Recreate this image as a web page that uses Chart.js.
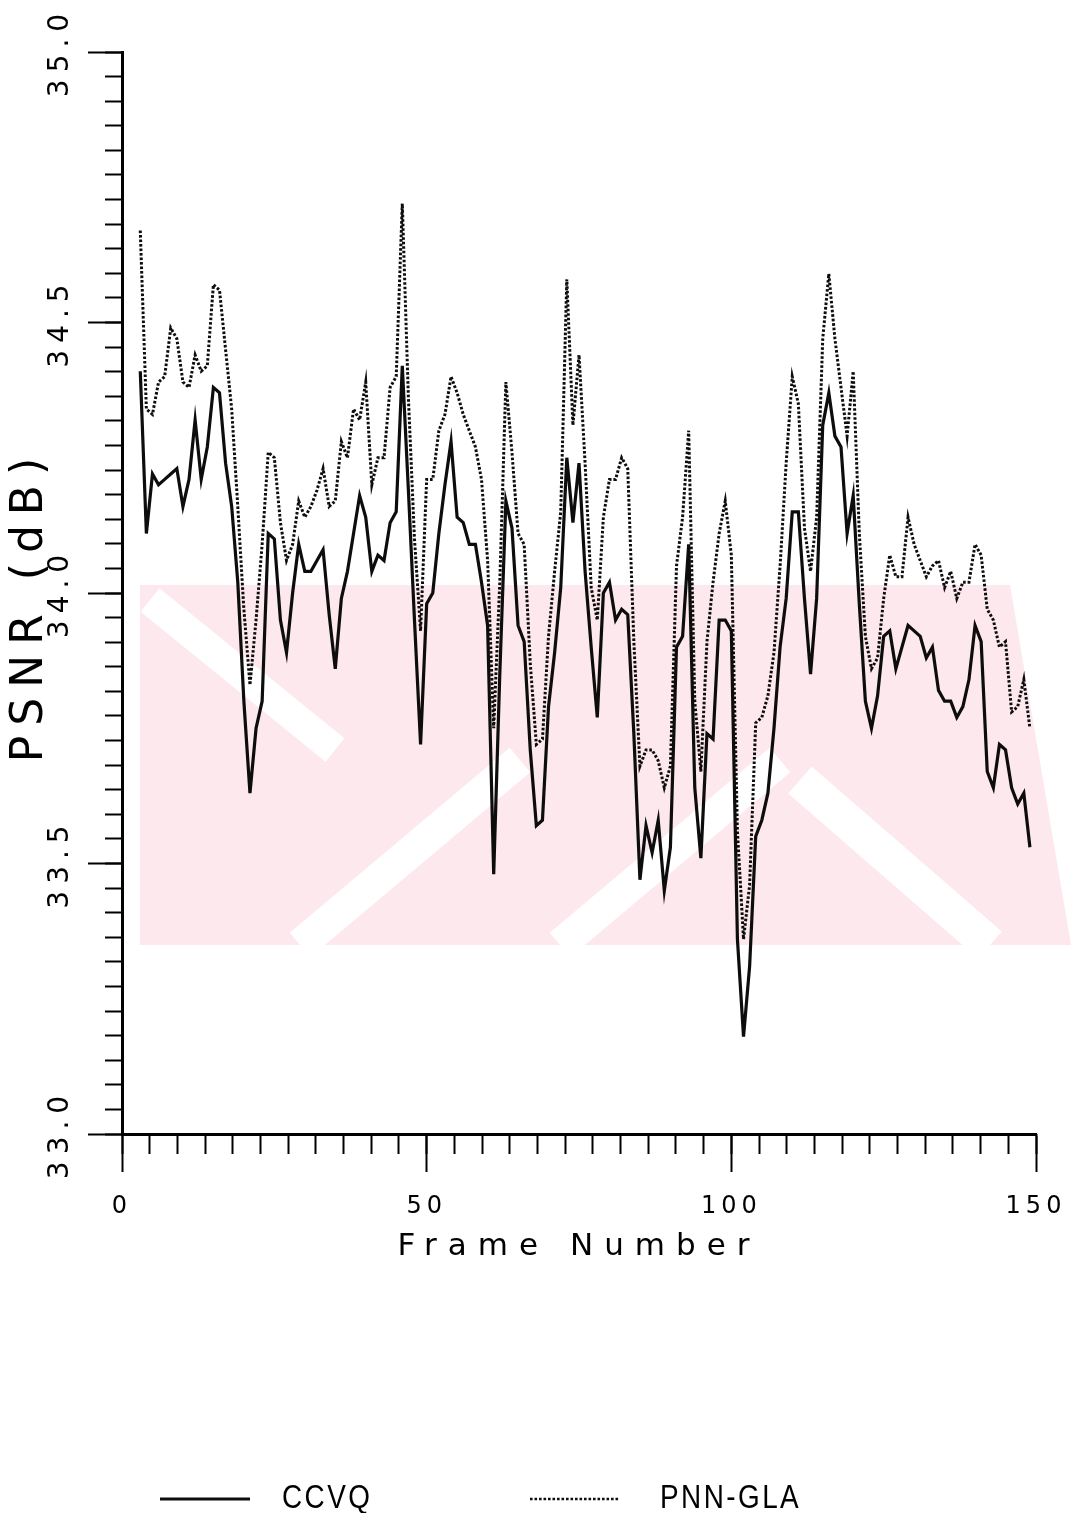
<!DOCTYPE html>
<html>
<head>
<meta charset="utf-8">
<script src="https://cdn.jsdelivr.net/npm/chart.js@4.4.1/dist/chart.umd.min.js"></script>
<style>
html,body{margin:0;padding:0;background:#ffffff;}
#wrap{width:1071px;height:1513px;position:relative;overflow:hidden;}
canvas{display:block;}
</style>
</head>
<body>
<div id="wrap"><canvas id="c" width="1071" height="1513"></canvas></div>
<script>
// ---------------- data ----------------
const frames = [3,4,5,6,7,8,9,10,11,12,13,14,15,16,17,18,19,20,21,22,23,24,25,26,27,28,29,30,
  31,32,33,34,35,36,37,38,39,40,41,42,43,44,45,46,47,48,49,50,51,52,53,54,55,56,57,58,59,60,
  61,62,63,64,65,66,67,68,69,70,71,72,73,74,75,76,77,78,79,80,81,82,83,84,85,86,87,88,89,90,
  91,92,93,94,95,96,97,98,99,100,101,102,103,104,105,106,107,108,109,110,111,112,113,114,115,
  116,117,118,119,120,121,122,123,124,125,126,127,128,129,130,131,132,133,134,135,136,137,138,
  139,140,141,142,143,144,145,146,147,148,149];

const ccvq = [34.41,34.11,34.22,34.20,34.21,34.22,34.23,34.16,34.21,34.32,34.21,34.27,34.38,34.37,
  34.24,34.16,34.02,33.80,33.63,33.75,33.80,34.11,34.10,33.95,33.89,34.00,34.09,34.04,34.04,34.06,
  34.08,33.96,33.86,33.99,34.04,34.11,34.18,34.14,34.04,34.07,34.06,34.13,34.15,34.42,34.19,33.95,
  33.72,33.98,34.00,34.11,34.20,34.28,34.14,34.13,34.09,34.09,34.02,33.94,33.48,33.85,34.17,34.12,
  33.94,33.91,33.71,33.57,33.58,33.79,33.89,34.01,34.25,34.13,34.24,34.04,33.90,33.77,34.00,34.02,
  33.95,33.97,33.96,33.74,33.47,33.57,33.52,33.58,33.45,33.53,33.90,33.92,34.09,33.64,33.51,33.74,
  33.73,33.95,33.95,33.93,33.36,33.18,33.31,33.55,33.58,33.63,33.75,33.90,33.99,34.15,34.15,33.99,
  33.85,33.99,34.31,34.37,34.29,34.27,34.11,34.18,33.98,33.80,33.75,33.81,33.92,33.93,33.86,33.90,
  33.94,33.93,33.92,33.88,33.90,33.82,33.80,33.80,33.77,33.79,33.84,33.94,33.91,33.67,33.64,33.72,
  33.71,33.64,33.61,33.63,33.53];

const pnnGla = [34.67,34.34,34.33,34.39,34.40,34.49,34.47,34.39,34.38,34.44,34.41,34.42,34.57,34.56,
  34.45,34.34,34.16,33.97,33.83,33.95,34.09,34.26,34.25,34.13,34.06,34.09,34.17,34.14,34.16,34.19,
  34.23,34.16,34.17,34.28,34.25,34.34,34.32,34.39,34.20,34.25,34.25,34.38,34.40,34.72,34.36,34.10,
  33.93,34.21,34.21,34.30,34.33,34.40,34.37,34.33,34.30,34.27,34.21,34.06,33.75,34.02,34.39,34.26,
  34.11,34.09,33.87,33.72,33.73,33.92,34.04,34.15,34.58,34.31,34.44,34.24,34.01,33.95,34.14,34.21,
  34.21,34.25,34.23,33.91,33.68,33.71,33.71,33.69,33.64,33.68,34.05,34.14,34.30,33.80,33.67,33.91,
  34.02,34.11,34.17,34.07,33.56,33.36,33.46,33.76,33.77,33.81,33.89,34.05,34.24,34.40,34.35,34.12,
  34.04,34.14,34.47,34.59,34.47,34.38,34.29,34.41,34.11,33.92,33.86,33.88,33.99,34.07,34.03,34.03,
  34.14,34.09,34.06,34.03,34.05,34.06,34.01,34.04,33.99,34.02,34.02,34.09,34.07,33.97,33.95,33.90,
  33.91,33.78,33.79,33.84,33.75];

const seriesNames = ['CCVQ', 'PNN-GLA'];
const xTitle = 'Frame Number';
const yTitle = 'PSNR (dB) ';
const xMajorTicks = [0, 50, 100, 150];
const yMajorTicks = [33.0, 33.5, 34.0, 34.5, 35.0];
const xRange = [0, 150];
const yRange = [33.0, 35.0];
const xMinorIntervals = 33;   // tick marks along the frame axis
const yMinorIntervals = 44;   // tick marks along the PSNR axis

// ---------------- helpers ----------------
const xMinorTicks = [];
for (let i = 0; i <= xMinorIntervals; i++) xMinorTicks.push(xRange[0] + (xRange[1] - xRange[0]) * i / xMinorIntervals);
const yMinorTicks = [];
for (let i = 0; i <= yMinorIntervals; i++) yMinorTicks.push(yRange[0] + (yRange[1] - yRange[0]) * i / yMinorIntervals);

const SPACING = { xMajor: { ticks: 5, title: 11 }, yMajor: { ticks: 7, title: 10 } };

class SpacedLinear extends Chart.LinearScale {
  drawLabels(chartArea) {
    const c = this.ctx; const prev = c.letterSpacing;
    const s = SPACING[this.id];
    if (s && 'letterSpacing' in c) c.letterSpacing = s.ticks + 'px';
    super.drawLabels(chartArea);
    if ('letterSpacing' in c) c.letterSpacing = prev || '0px';
  }
  drawTitle() {
    const c = this.ctx; const prev = c.letterSpacing;
    const s = SPACING[this.id];
    if (s && 'letterSpacing' in c) c.letterSpacing = s.title + 'px';
    super.drawTitle();
    if ('letterSpacing' in c) c.letterSpacing = prev || '0px';
  }
}
SpacedLinear.id = 'spacedLinear';
SpacedLinear.defaults = Chart.LinearScale.defaults;
Chart.register(SpacedLinear);

const watermark = {
  id: 'watermark',
  beforeDraw(chart) {
    const ctx = chart.ctx;
    ctx.save();
    ctx.beginPath();
    ctx.moveTo(140, 585); ctx.lineTo(1010, 585); ctx.lineTo(1071, 945); ctx.lineTo(140, 945);
    ctx.closePath();
    ctx.fillStyle = '#fce8ed';
    ctx.fill();
    ctx.clip();
    ctx.strokeStyle = '#ffffff';
    ctx.lineCap = 'butt';
    const stripes = [
      [[150, 600], [335, 750], 30],
      [[300, 945], [520, 760], 32],
      [[560, 945], [780, 760], 32],
      [[800, 780], [990, 945], 36]
    ];
    for (const [a, b, w] of stripes) {
      ctx.lineWidth = w;
      ctx.beginPath(); ctx.moveTo(a[0], a[1]); ctx.lineTo(b[0], b[1]); ctx.stroke();
    }
    ctx.restore();
  }
};

const legendDraw = {
  id: 'legendDraw',
  afterDraw(chart) {
    const ctx = chart.ctx;
    const y = 1499;
    const items = [
      { ds: 0, x0: 160, x1: 250, tx: 282 },
      { ds: 1, x0: 530, x1: 620, tx: 660 }
    ];
    for (const it of items) {
      const d = chart.data.datasets[it.ds];
      ctx.save();
      if ('letterSpacing' in ctx) ctx.letterSpacing = '0px';
      ctx.strokeStyle = d.borderColor;
      ctx.lineWidth = it.ds === 0 ? 2.8 : 2.4;
      ctx.setLineDash(d.borderDash || []);
      ctx.beginPath(); ctx.moveTo(it.x0, y); ctx.lineTo(it.x1, y); ctx.stroke();
      ctx.setLineDash([]);
      ctx.translate(it.tx, y);
      ctx.scale(0.82, 1);
      ctx.font = '34px "Liberation Sans", Arial, sans-serif';
      if ('letterSpacing' in ctx) ctx.letterSpacing = '3px';
      ctx.fillStyle = '#000';
      ctx.textBaseline = 'middle';
      ctx.textAlign = 'left';
      ctx.fillText(d.label, 0, 0);
      ctx.restore();
    }
  }
};

const FONT = 'DejaVu Sans';

new Chart(document.getElementById('c'), {
  type: 'line',
  data: {
    datasets: [
      {
        label: seriesNames[0],
        data: frames.map((f, i) => ({ x: f, y: ccvq[i] })),
        borderColor: '#0d0d0d',
        borderWidth: 3.2,
        pointRadius: 0,
        tension: 0,
        fill: false,
        xAxisID: 'x', yAxisID: 'y'
      },
      {
        label: seriesNames[1],
        data: frames.map((f, i) => ({ x: f, y: pnnGla[i] })),
        borderColor: '#0d0d0d',
        borderWidth: 3,
        borderDash: [2.6, 1.9],
        pointRadius: 0,
        tension: 0,
        fill: false,
        xAxisID: 'x', yAxisID: 'y'
      }
    ]
  },
  options: {
    responsive: false,
    animation: false,
    devicePixelRatio: 1,
    layout: { padding: { left: 0, right: 35, top: 52, bottom: 0 } },
    plugins: { legend: { display: false }, tooltip: { enabled: false } },
    scales: {
      x: {
        type: 'linear', axis: 'x', position: 'bottom', weight: 0,
        min: xRange[0], max: xRange[1],
        afterBuildTicks: s => { s.ticks = xMinorTicks.map(v => ({ value: v })); },
        grid: { display: true, drawOnChartArea: false, drawTicks: true, tickLength: 20, tickWidth: 2, tickColor: '#000' },
        border: { display: true, width: 3, color: '#000' },
        ticks: { display: false },
        afterFit: s => { s.height = 0; }
      },
      xMajor: {
        type: 'spacedLinear', axis: 'x', position: 'bottom', weight: 1,
        min: xRange[0], max: xRange[1],
        afterBuildTicks: s => { s.ticks = xMajorTicks.map(v => ({ value: v })); },
        grid: { display: true, drawOnChartArea: false, drawTicks: true, tickLength: 38, tickWidth: 2, tickColor: '#000' },
        border: { display: false },
        ticks: {
          display: true, autoSkip: false, maxRotation: 0, minRotation: 0, padding: 11,
          color: '#000', font: { family: FONT, size: 24, lineHeight: 2.0 },
          callback: v => String(v)
        },
        title: {
          display: true, text: xTitle, color: '#000',
          font: { family: FONT, size: 31 }, padding: { top: 0, bottom: 247 }
        },
        afterFit: s => { s.height = 379; }
      },
      y: {
        type: 'linear', axis: 'y', position: 'left', weight: 0,
        min: yRange[0], max: yRange[1],
        afterBuildTicks: s => { s.ticks = yMinorTicks.map(v => ({ value: v })); },
        grid: { display: true, drawOnChartArea: false, drawTicks: true, tickLength: 17, tickWidth: 2, tickColor: '#000' },
        border: { display: true, width: 3, color: '#000' },
        ticks: { display: false },
        afterFit: s => { s.width = 0; }
      },
      yMajor: {
        type: 'spacedLinear', axis: 'y', position: 'left', weight: 1,
        min: yRange[0], max: yRange[1],
        afterBuildTicks: s => { s.ticks = yMajorTicks.map(v => ({ value: v })); },
        grid: { display: true, drawOnChartArea: false, drawTicks: true, tickLength: 34, tickWidth: 2, tickColor: '#000' },
        border: { display: false },
        ticks: {
          display: true, autoSkip: false, minRotation: 90, maxRotation: 90, crossAlign: 'center', padding: -4,
          color: '#000', font: { family: FONT, size: 28 },
          callback: v => Number(v).toFixed(1)
        },
        title: {
          display: true, text: yTitle, color: '#000',
          font: { family: FONT, size: 44 }, padding: { top: 4, bottom: 0 }
        },
        afterFit: s => { s.width = 122; }
      }
    }
  },
  plugins: [watermark, legendDraw]
});
</script>
</body>
</html>
